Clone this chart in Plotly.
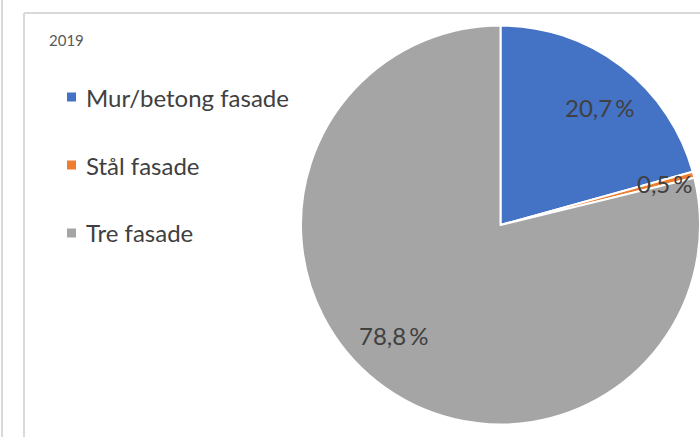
import plotly.graph_objects as go

title_text = "2019"
categories = ["Mur/betong fasade", "Stål fasade", "Tre fasade"]
values = [20.7, 0.5, 78.8]
label_texts = ["20,7\u2009%", "0,5\u2009%", "78,8\u2009%"]
colors = ["#4472C4", "#ED7D31", "#A5A5A5"]

W, H = 700, 437
FONT = "Lato, 'Open Sans', sans-serif"

fig = go.Figure()
fig.add_trace(go.Pie(
    labels=categories,
    values=values,
    sort=False,
    direction="clockwise",
    rotation=0,
    marker=dict(colors=colors, line=dict(color="white", width=2)),
    textinfo="none",
    hoverinfo="label+percent",
    showlegend=False,
    domain=dict(x=[301 / W, 1.0], y=[12 / H, 412 / H]),
))

# data label positions (pixel positions of labels in the reference)
label_pos = [(599, 108), (665, 183), (393, 335)]
annotations = []
for txt, (px, py) in zip(label_texts, label_pos):
    annotations.append(dict(
        x=px / W, y=1 - py / H, xref="paper", yref="paper",
        text=txt, showarrow=False, xanchor="center", yanchor="middle",
        font=dict(family=FONT, size=24, color="#404040"),
    ))

# title
annotations.append(dict(
    x=47 / W, y=1 - 40 / H, xref="paper", yref="paper", text=title_text,
    showarrow=False, xanchor="left", yanchor="middle",
    font=dict(family=FONT, size=15, color="#595959"),
))

shapes = []
legend_y = [97, 165, 233]
for cat, col, ly in zip(categories, colors, legend_y):
    shapes.append(dict(
        type="rect", xref="paper", yref="paper",
        x0=67 / W, x1=76 / W, y0=1 - (ly + 4.5) / H, y1=1 - (ly - 4.5) / H,
        fillcolor=col, line=dict(width=0),
    ))
    annotations.append(dict(
        x=84 / W, y=1 - ly / H, xref="paper", yref="paper", text=cat,
        showarrow=False, xanchor="left", yanchor="middle",
        font=dict(family=FONT, size=24, color="#404040"),
    ))

# frame lines
line_style = dict(color="#D9D9D9", width=2)
shapes += [
    dict(type="line", xref="paper", yref="paper", x0=2 / W, x1=2 / W, y0=0, y1=1, line=line_style),
    dict(type="line", xref="paper", yref="paper", x0=24 / W, x1=24 / W, y0=0, y1=1 - 13 / H, line=line_style),
    dict(type="line", xref="paper", yref="paper", x0=24 / W, x1=1, y0=1 - 13 / H, y1=1 - 13 / H, line=line_style),
]

fig.update_layout(
    width=W, height=H,
    margin=dict(l=0, r=0, t=0, b=0),
    paper_bgcolor="white", plot_bgcolor="white",
    annotations=annotations, shapes=shapes,
    showlegend=False,
)

fig.write_html(
    "out.html",
    config={"displayModeBar": False},
    post_script="document.body.style.margin='0';document.body.style.overflow='hidden';",
)
